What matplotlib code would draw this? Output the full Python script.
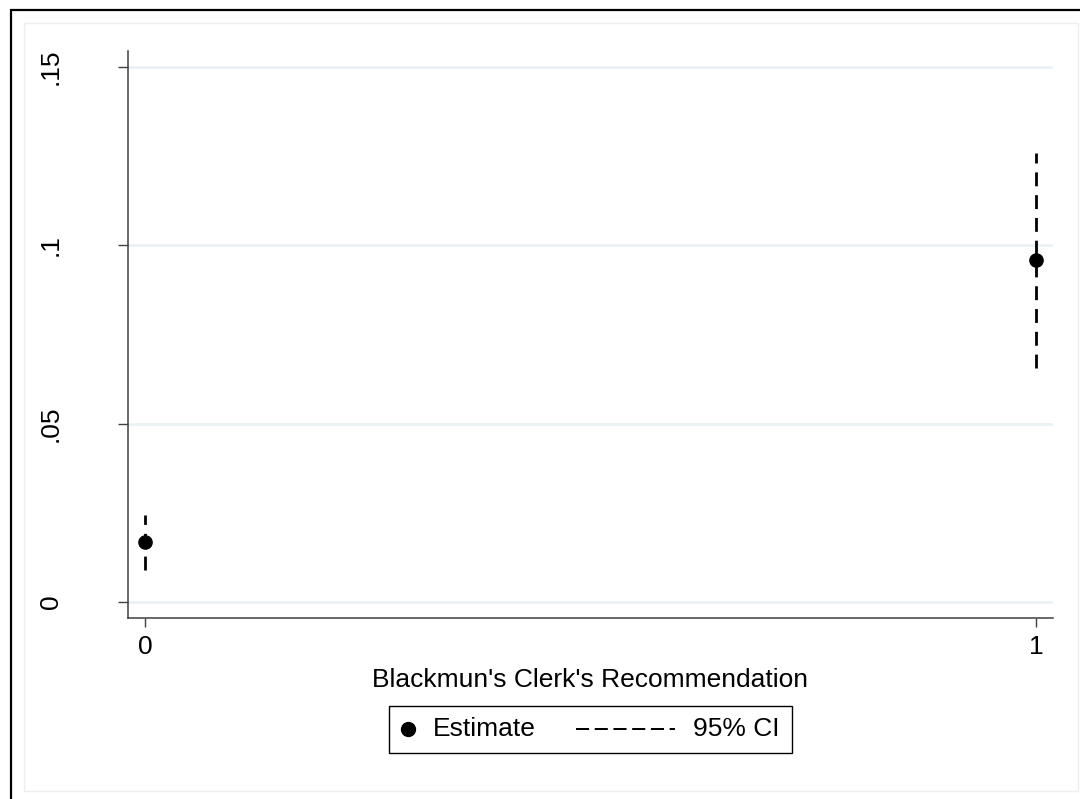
import matplotlib.pyplot as plt
from matplotlib.lines import Line2D
from matplotlib.patches import Rectangle
from matplotlib.offsetbox import (AnchoredOffsetbox, DrawingArea, HPacker,
                                  TextArea)

plt.rcParams['font.family'] = ['Liberation Sans', 'DejaVu Sans']

# point estimates and 95% confidence bounds by recommendation
groups = [0, 1]
estimate = [0.0168, 0.0959]
ci_low = [0.0090, 0.0656]
ci_high = [0.0244, 0.1259]

yticks = [0, 0.05, 0.1, 0.15]
ytick_labels = ['0', '.05', '.1', '.15']
xtick_labels = ['0', '1']

fs = 19
grid_col = '#eaf2f3'
dash = (0, (5, 3.2))

fig = plt.figure(figsize=(10.8, 7.99), dpi=100)
fig.patch.set_facecolor('white')

# outer frame and inner plot region
fig.patches.append(Rectangle((11 / 1080, -0.05), 1.2, 1 - 10 / 799 + 0.05,
                             transform=fig.transFigure, fill=False,
                             edgecolor='black', linewidth=1.6))
fig.patches.append(Rectangle((24 / 1080, 8 / 799), (1078 - 24) / 1080,
                             (791 - 23) / 799, transform=fig.transFigure,
                             fill=False, edgecolor='#eeeeee', linewidth=1))

ax = fig.add_axes([128 / 1080, 1 - 618 / 799, (1053 - 128) / 1080, (618 - 51) / 799])
ax.set_facecolor('white')

for y in yticks:
    ax.axhline(y, color=grid_col, lw=2, zorder=0)

ax.vlines(groups, ci_low, ci_high, colors='black', linestyles=dash, lw=2, zorder=2)
ax.plot(groups, estimate, 'o', color='black', ms=9.5, zorder=3)

ax.set_xlim(-0.0191, 1.0191)
ax.set_ylim(-0.00449, 0.15449)

ax.set_yticks(yticks)
ax.set_yticklabels(ytick_labels, rotation=90, va='center')
ax.set_xticks(groups)
ax.set_xticklabels(xtick_labels)
ax.tick_params(axis='y', length=7, width=1, color='#404040', labelsize=fs, pad=40)
ax.tick_params(axis='x', length=6.5, width=1, color='#404040', labelsize=fs, pad=5.5)

for side in ['top', 'right']:
    ax.spines[side].set_visible(False)
for side in ['left', 'bottom']:
    ax.spines[side].set_color('#404040')
    ax.spines[side].set_linewidth(1.1)

ax.set_xlabel("Blackmun's Clerk's Recommendation", fontsize=fs, labelpad=7)

# legend: marker key, label, dashed key, label
mk = DrawingArea(10, 12, 0, 0)
mk.add_artist(Line2D([5], [6.5], marker='o', color='black', ms=10, ls='none'))
dl = DrawingArea(71, 12, 0, 0)
dl.add_artist(Line2D([0, 71], [6.5, 6.5], color='black', lw=1.45, ls=(0, (6.5, 2.8))))
txt = dict(size=fs, color='black')
est = HPacker(children=[mk, TextArea('Estimate', textprops=txt)], sep=13, align='center')
ci = HPacker(children=[dl, TextArea('95% CI', textprops=txt)], sep=13, align='center')
row = HPacker(children=[est, ci], sep=29, align='center')
box = AnchoredOffsetbox(loc='center', child=row, pad=0.45, borderpad=0,
                        frameon=True, bbox_to_anchor=(590.5 / 1080, 0.087),
                        bbox_transform=fig.transFigure,
                        prop=dict(size=fs))
box.patch.set_edgecolor('black')
box.patch.set_linewidth(1.0)
box.patch.set_boxstyle('square', pad=0)
fig.add_artist(box)

fig.savefig('out.png', dpi=100)
